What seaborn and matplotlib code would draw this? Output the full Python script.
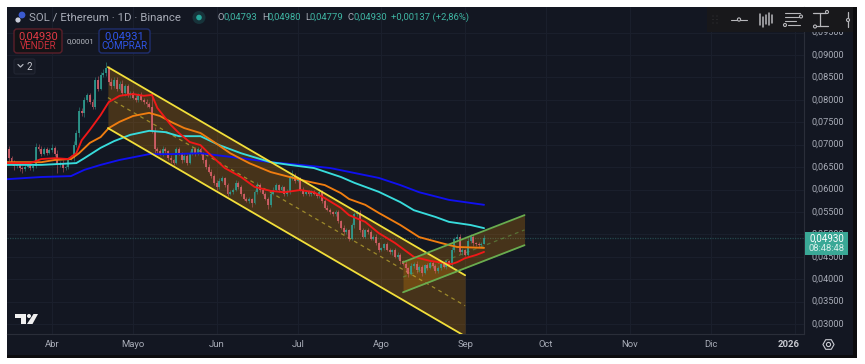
import matplotlib
matplotlib.use("Agg")
import numpy as np
import pandas as pd
import seaborn as sns
import matplotlib.pyplot as plt
from matplotlib.patches import Rectangle, FancyBboxPatch, Polygon, Circle

# daily candles, day 0 = 1 Apr
first_open = 0.0690
closes = [
    .0670, .0660, .0652, .0655, .0648, .0645, .0650, .0655, .0648, .0652,
    .0695, .0690, .0680, .0690, .0682, .0688, .0692, .0680, .0655, .0660,
    .0648, .0650, .0668, .0670, .0700, .0725, .0775, .0770, .0800, .0810,
    .0795, .0785, .0845, .0825, .0855, .0860, .0870, .0840, .0830, .0845,
    .0825, .0835, .0815, .0830, .0810, .0815, .0805, .0800, .0810, .0800,
    .0795, .0790, .0785, .0730, .0690, .0685, .0680, .0690, .0685, .0670,
    .0665, .0660, .0690, .0680, .0665, .0675, .0660, .0680, .0690, .0680,
    .0690, .0680, .0665, .0650, .0640, .0630, .0615, .0605, .0620, .0625,
    .0610, .0590, .0595, .0600, .0615, .0605, .0590, .0580, .0575, .0578,
    .0570, .0595, .0610, .0600, .0590, .0580, .0565, .0590, .0600, .0610,
    .0600, .0605, .0590, .0595, .0625, .0630, .0620, .0625, .0600, .0590,
    .0595, .0590, .0595, .0590, .0585, .0595, .0575, .0560, .0555, .0550,
    .0545, .0550, .0530, .0515, .0505, .0510, .0490, .0520, .0545, .0548,
    .0510, .0495, .0510, .0505, .0490, .0495, .0480, .0465, .0470, .0478,
    .0465, .0460, .0465, .0450, .0455, .0440, .0435, .0425, .0412, .0430,
    .0435, .0420, .0428, .0415, .0432, .0425, .0437, .0430, .0418, .0425,
    .0435, .0428, .0440, .0432, .0465, .0490, .0495, .0460, .0465, .0455,
    .0485, .0495, .0480, .0478, .0476, .04793, .04930,
]
# wick lengths in 0.0001
wick_up = [
    8, 4, 5, 6, 3, 5, 4, 3, 6, 4,
    9, 6, 8, 4, 6, 5, 9, 5, 8, 4,
    6, 5, 4, 6, 9, 8, 10, 7, 6, 5,
    6, 8, 5, 9, 6, 8, 14, 6, 8, 5,
    7, 6, 9, 5, 6, 5, 4, 6, 5, 7,
    5, 6, 5, 30, 10, 6, 5, 7, 5, 4,
    6, 3, 6, 5, 4, 6, 5, 7, 5, 6,
    5, 6, 4, 5, 6, 5, 4, 7, 5, 6,
    4, 5, 3, 4, 6, 4, 5, 3, 4, 5,
    4, 5, 6, 4, 3, 5, 4, 6, 5, 4,
    3, 5, 4, 6, 8, 14, 6, 4, 3, 5,
    4, 3, 4, 5, 3, 6, 4, 3, 5, 4,
    3, 5, 4, 3, 5, 4, 3, 6, 5, 7,
    6, 4, 3, 5, 4, 3, 5, 4, 3, 3,
    4, 5, 3, 4, 5, 3, 4, 5, 3, 6,
    4, 5, 3, 4, 3, 5, 4, 3, 4, 4,
    4, 5, 3, 4, 6, 5, 6, 5, 4, 3,
    6, 5, 3, 3, 4, 3, 5,
]
wick_dn = [
    6, 5, 9, 5, 6, 8, 4, 3, 5, 6,
    4, 3, 5, 4, 6, 3, 5, 6, 18, 5,
    9, 5, 4, 3, 6, 5, 8, 6, 9, 5,
    4, 5, 6, 5, 4, 5, 6, 8, 5, 4,
    6, 4, 5, 6, 4, 5, 3, 4, 5, 3,
    4, 5, 4, 3, 8, 5, 4, 6, 5, 4,
    6, 5, 3, 4, 5, 4, 6, 3, 4, 5,
    4, 3, 5, 4, 3, 5, 4, 6, 3, 4,
    5, 4, 3, 6, 4, 3, 5, 4, 3, 5,
    8, 3, 4, 5, 3, 4, 8, 4, 3, 4,
    5, 3, 4, 5, 4, 3, 5, 4, 3, 4,
    3, 5, 4, 3, 4, 3, 5, 4, 3, 5,
    4, 3, 5, 4, 3, 4, 5, 3, 6, 5,
    5, 3, 4, 5, 3, 3, 4, 5, 3, 4,
    3, 4, 5, 3, 4, 5, 3, 8, 7, 3,
    4, 5, 3, 8, 3, 5, 3, 4, 5, 3,
    4, 3, 5, 3, 4, 4, 3, 4, 5, 3,
    3, 4, 5, 3, 3, 1, 1,
]
days = list(range(-16, 161))

red_days = [-17, -8, -4, 1, 6, 9, 11, 14, 18, 21, 25, 30, 34, 37, 39, 44, 47, 51, 55, 58, 64, 70, 75, 81, 86, 92, 97, 101, 107, 110, 116, 121, 127, 134, 140, 148, 150, 153, 157, 160]
red_ma = [.0659, .0659, .0668, .0670, .0668, .0681, .0710, .0733, .0766, .0795, .0809, .0813, .0809, .0811, .0782, .0744, .0726, .0706, .0699, .0681, .0648, .0628, .0606, .0597, .0594, .0599, .0594, .0581, .0559, .0543, .0528, .0503, .0481, .0450, .0441, .0434, .0438, .0447, .0454, .0461]
orange_days = [-17, -10, -4, 1, 7, 10, 14, 18, 21, 25, 30, 36, 40, 44, 49, 55, 60, 66, 73, 81, 88, 94, 101, 107, 110, 116, 121, 129, 136, 144, 150, 160]
orange_ma = [.0661, .0661, .0661, .0666, .0668, .0681, .0704, .0717, .0737, .0751, .0764, .0771, .0764, .0751, .0737, .0726, .0706, .0681, .0659, .0639, .0628, .0619, .0610, .0592, .0579, .0566, .0548, .0521, .0494, .0481, .0472, .0470]
cyan_days = [-17, -4, 9, 12, 18, 23, 29, 36, 42, 47, 55, 62, 70, 81, 88, 97, 107, 112, 121, 129, 134, 142, 147, 155, 160]
cyan_ma = [.0655, .0655, .0659, .0670, .0693, .0708, .0722, .0731, .0728, .0719, .0719, .0699, .0681, .0661, .0655, .0648, .0628, .0615, .0595, .0572, .0554, .0539, .0528, .0521, .0514]
blue_days = [-17, -4, 7, 12, 18, 25, 36, 44, 55, 70, 81, 92, 103, 112, 121, 129, 136, 147, 160]
blue_ma = [.0623, .0628, .0630, .0644, .0655, .0666, .0679, .0679, .0681, .0670, .0661, .0655, .0648, .0637, .0626, .0610, .0594, .0577, .0566]

# drawn channels: start/end day, then upper, middle, lower price at each end
fall_days = [20.7, 153]
fall_upper = [.0873, .0409]
fall_mid = [.0805, .0341]
fall_lower = [.0737, .0273]
rise_days = [130, 175]
rise_upper = [.0438, .0543]
rise_mid = [.0405, .0510]
rise_lower = [.0371, .0476]

month_days = [0, 30, 61, 91, 122, 153, 183, 214, 244, 275]
month_labels = ["Abr", "Mayo", "Jun", "Jul", "Ago", "Sep", "Oct", "Nov", "Dic", "2026"]
price_ticks = [.03, .035, .04, .045, .05, .055, .06, .065, .07, .075, .08, .085, .09, .095]
last_price = 0.0493

BG = "#131722"
GRID = "#1b202d"
AXC = "#2a2e39"
TXT = "#a9adb8"
UP = "#2f9e92"
DOWN = "#d9606a"

sns.set_theme(style="dark", rc={"axes.facecolor": BG, "figure.facecolor": "white"})
plt.rcParams["font.family"] = ["Roboto", "DejaVu Sans"]

fig = plt.figure(figsize=(8.65, 3.64), dpi=100)
W, H = 865, 364

# panel and chrome sit on a full figure pixel axes
back = fig.add_axes([0, 0, 1, 1], zorder=0)
back.set_xlim(0, W)
back.set_ylim(H, 0)
back.axis("off")
back.add_patch(Rectangle((7, 7), 850, 351, fc="#0c0c0e", ec="none"))
back.add_patch(Rectangle((7, 7), 846, 348, fc=BG, ec="none"))

ax = fig.add_axes([7 / W, (H - 334) / H, 797 / W, 327 / H], zorder=1)
ax.set_facecolor(BG)
ax.set_xlim(-16.67, 278.5)
ax.set_ylim(.0278, .1007)
ax.set_xticks(month_days)
ax.set_yticks(price_ticks)
ax.set_xticklabels([])
ax.set_yticklabels([])
ax.tick_params(length=0)
ax.grid(True, color=GRID, lw=0.7)
ax.set_axisbelow(True)
for name, sp in ax.spines.items():
    sp.set_visible(name in ("right", "bottom"))
    sp.set_color(AXC)
    sp.set_linewidth(0.8)

ax.axhline(last_price, color="#24484c", lw=0.9, ls=(0, (1, 1)), zorder=1)

# channels
def channel(d, up, mid, low, color):
    ax.fill_between(d, low, up, color="#ff9800", alpha=0.22, lw=0, zorder=2)
    sns.lineplot(x=d, y=up, color=color, lw=1.3, ax=ax, zorder=6)
    sns.lineplot(x=d, y=low, color=color, lw=1.3, ax=ax, zorder=6)
    ax.plot(d, mid, color=color, lw=0.9, ls=(0, (3, 3)), alpha=0.5, zorder=3)

channel(fall_days, fall_upper, fall_mid, fall_lower, "#f2df3a")
channel(rise_days, rise_upper, rise_mid, rise_lower, "#69ac4f")

# candles
candles = pd.DataFrame({"day": days, "close": closes})
candles["open"] = [first_open] + closes[:-1]
candles["high"] = candles[["open", "close"]].max(axis=1) + np.array(wick_up) * 1e-4
candles["low"] = candles[["open", "close"]].min(axis=1) - np.array(wick_dn) * 1e-4
candles["color"] = np.where(candles["close"] >= candles["open"], UP, DOWN)
ax.vlines(candles["day"], candles["low"], candles["high"], colors=candles["color"], lw=0.5, alpha=0.7, zorder=4)
ax.bar(candles["day"], (candles["close"] - candles["open"]).abs().clip(lower=.0002),
       bottom=candles[["open", "close"]].min(axis=1), width=0.72, color=candles["color"], lw=0, alpha=0.85, zorder=4)

# moving averages
for d, v, c in [(blue_days, blue_ma, "#1010f0"), (cyan_days, cyan_ma, "#38dcdc"),
                (orange_days, orange_ma, "#f07d10"), (red_days, red_ma, "#f01818")]:
    sns.lineplot(x=d, y=v, color=c, lw=1.35, ax=ax, zorder=5, estimator=None, sort=False)
ax.set_xlabel("")
ax.set_ylabel("")

# overlay
top = fig.add_axes([0, 0, 1, 1], zorder=2)
top.set_xlim(0, W)
top.set_ylim(H, 0)
top.axis("off")
top.patch.set_alpha(0)

def px_x(d):
    return 52 + (d - 0) * 2.7

def px_y(p):
    return 55 + (.09 - p) / .000223

for lab, d in zip(month_labels, month_days):
    if lab == "2026":
        top.text(px_x(d) - 6, 344.5, lab, color="#c8cad1", fontsize=6.8, ha="center", va="center", fontweight="bold")
    else:
        top.text(px_x(d), 344.5, lab, color=TXT, fontsize=6.8, ha="center", va="center")
for p in price_ticks:
    top.text(811, px_y(p), f"{p:.5f}".replace(".", ","), color=TXT, fontsize=6.6, va="center", ha="left", zorder=1)

# price tag
top.add_patch(Rectangle((805, 232), 43, 23, fc="#3aa896", ec="none", zorder=3))
top.text(826.5, 238.5, "0,04930", color="white", fontsize=7, ha="center", va="center", zorder=4)
top.text(826.5, 248.5, "08:48:48", color="#d6efea", fontsize=6.8, ha="center", va="center", zorder=4)

# header
top.add_patch(Circle((22, 15), 3.4, fc="#3b5bd0", ec="none"))
top.add_patch(Circle((18, 20), 2.6, fc="#c8ccd8", ec="none"))
top.text(29, 17.5, "SOL / Ethereum · 1D · Binance", color="#a6aab5", fontsize=8.2, va="center")
top.add_patch(Circle((199, 17.5), 6.5, fc="#17333a", ec="none"))
top.add_patch(Circle((199, 17.5), 2.8, fc="#26a69a", ec="none"))
for x, letter, val in [(217, "O", "0,04793"), (262, "H", "0,04980"), (305, "L", "0,04779"), (348, "C", "0,04930")]:
    top.text(x, 17.5, letter, color=TXT, fontsize=6.8, va="center")
    top.text(x + (6 if letter != "L" else 4.5), 17.5, val, color="#3fb5a3", fontsize=6.8, va="center")
top.text(391, 17.5, "+0,00137 (+2,86%)", color="#3fb5a3", fontsize=6.8, va="center")

# sell / buy
top.add_patch(FancyBboxPatch((14, 29), 48, 24, boxstyle="round,pad=0,rounding_size=3", fc="#131316", ec="#5c1f2a", lw=1))
top.text(38, 36, "0,04930", color="#e23a45", fontsize=8, ha="center", va="center")
top.text(38, 46, "VENDER", color="#c92f3a", fontsize=7, ha="center", va="center")
top.text(80, 41, "0,00001", color="#b5b8c0", fontsize=5.6, ha="center", va="center")
top.add_patch(FancyBboxPatch((99, 29), 51, 24, boxstyle="round,pad=0,rounding_size=3", fc="#131316", ec="#1f2f70", lw=1))
top.text(124.5, 36, "0,04931", color="#2f55e8", fontsize=8, ha="center", va="center")
top.text(124.5, 46, "COMPRAR", color="#2f55e8", fontsize=7, ha="center", va="center")
top.add_patch(FancyBboxPatch((14, 59), 21, 15, boxstyle="round,pad=0,rounding_size=2", fc="#171b26", ec="#222633", lw=0.8))
top.plot([18, 20.5, 23], [64.5, 67, 64.5], color="#b5b8c0", lw=0.9)
top.text(29, 66.5, "2", color="#c8cad1", fontsize=7, ha="center", va="center")

# drawing toolbar
top.add_patch(Rectangle((707, 7), 146, 25, fc="#18181b", ec="none", zorder=5))
ic = "#b8b8bc"
for xx in (713, 717):
    for yy in (16, 19.5, 23):
        top.add_patch(Circle((xx, yy), 0.5, fc="#3c3c40", ec="none", zorder=6))
top.plot([731, 747], [19.5, 19.5], color=ic, lw=0.8, zorder=6)
top.add_patch(Circle((739, 19.5), 1.6, fc="#18181b", ec=ic, lw=0.8, zorder=7))
for xx, y0, y1 in [(760, 14, 25), (763, 17, 27), (766, 15, 24), (769, 13, 25), (771.5, 15, 23)]:
    top.plot([xx, xx], [y0, y1], color=ic, lw=1.1, zorder=6)
for y0, x0, x1 in [(12.5, 785, 800), (16.5, 785, 800), (20.5, 785, 796), (25, 788, 800)]:
    top.plot([x0, x1], [y0, y0], color=ic, lw=0.8, zorder=6)
top.add_patch(Circle((801, 16.5), 1.5, fc="#18181b", ec=ic, lw=0.8, zorder=7))
top.add_patch(Circle((785, 25), 1.5, fc="#18181b", ec=ic, lw=0.8, zorder=7))
top.plot([813, 826], [12.5, 12.5], color=ic, lw=0.9, zorder=6)
top.plot([820, 820], [12.5, 26], color=ic, lw=0.9, zorder=6)
top.plot([817, 828], [26, 26], color=ic, lw=0.9, zorder=6)
top.add_patch(Circle((827, 12), 1.5, fc="#18181b", ec=ic, lw=0.8, zorder=7))
top.add_patch(Circle((815, 26.5), 1.5, fc="#18181b", ec=ic, lw=0.8, zorder=7))
top.plot([848, 848], [12, 27], color=ic, lw=0.9, zorder=6)
top.add_patch(Circle((848, 20), 1.5, fc="#18181b", ec=ic, lw=0.8, zorder=7))

# logo
logo = "#f0f0f0"
top.add_patch(Polygon([(15, 314), (26, 314), (26, 324), (20.5, 324), (20.5, 318), (15, 318)], fc=logo, ec="none"))
top.add_patch(Circle((29, 316), 2, fc=logo, ec="none"))
top.add_patch(Polygon([(33.5, 314), (38, 314), (32.5, 324), (27, 324)], fc=logo, ec="none"))

# gear
top.plot([828], [344], marker="H", ms=8, mfc="none", mec="#c8cad1", mew=0.8)
top.plot([828], [344], marker="o", ms=3, mfc="none", mec="#c8cad1", mew=0.8)

fig.savefig("out.png", dpi=100)
